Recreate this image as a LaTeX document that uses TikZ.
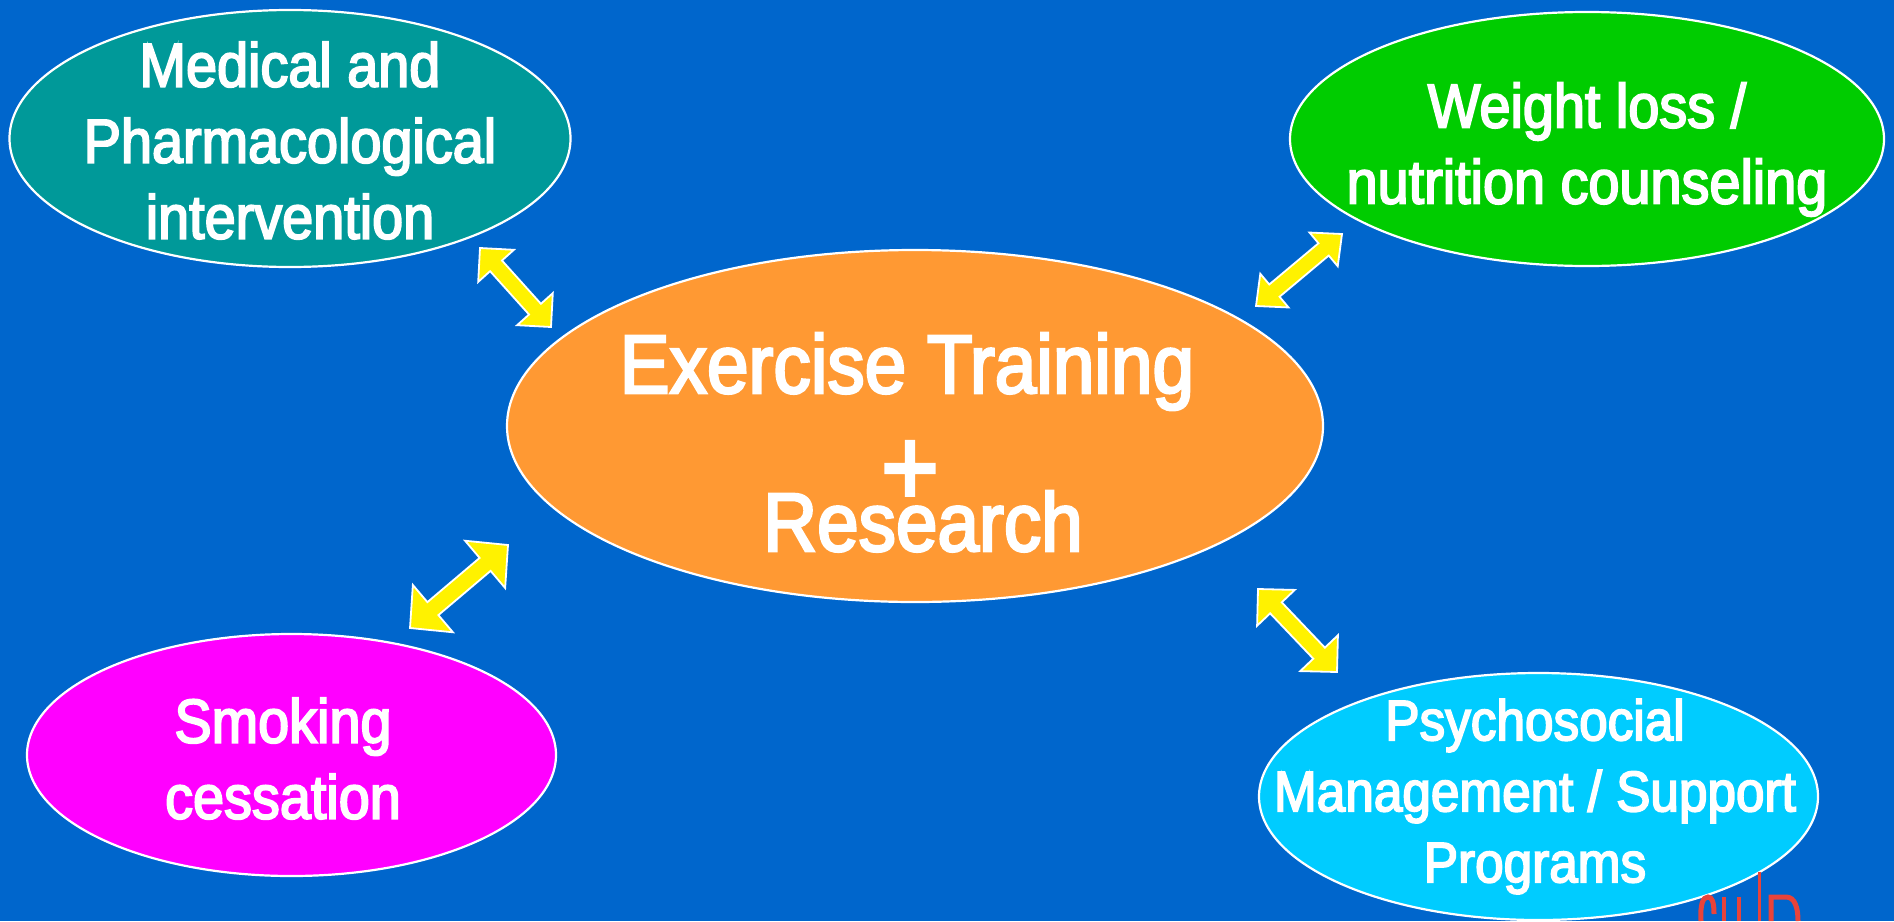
\documentclass[tikz,border=0pt]{standalone}
\usepackage{fontspec}
\setmainfont{Liberation Sans}[FakeStretch=0.9, FakeBold=3]
\usetikzlibrary{shapes.geometric,calc}

\definecolor{bgblue}{HTML}{0066CC}
\definecolor{medteal}{HTML}{009999}
\definecolor{weightgreen}{HTML}{00CC00}
\definecolor{trainorange}{HTML}{FF9933}
\definecolor{smokemagenta}{HTML}{FF00FF}
\definecolor{psychcyan}{HTML}{00CCFF}
\definecolor{logored}{HTML}{E8433A}

\begin{document}
\begin{tikzpicture}[x=1pt, y=-1pt]
            \tikzstyle{blob}=[ellipse, draw=white, line width=2.2pt, inner sep=0pt]
            \tikzstyle{blobtext}=[text=white, align=center, inner sep=0pt, font=\fontsize{62}{76}\selectfont]
            \tikzstyle{bigtext}=[text=white, inner sep=0pt, font=\fontsize{83}{83}\selectfont]
            % yellow block arrow with a head at both ends: {head length}{head half width}{shaft half width}
            \tikzset{biarrow/.style n args={3}{fill=yellow, draw=white, line width=1.8pt, to path={
                -- ($(\tikztostart)!#1!(\tikztotarget)!#2!90:(\tikztotarget)$)
                -- ($(\tikztostart)!#1!(\tikztotarget)!#3!90:(\tikztotarget)$)
                -- ($(\tikztotarget)!#1!(\tikztostart)!#3!-90:(\tikztostart)$)
                -- ($(\tikztotarget)!#1!(\tikztostart)!#2!-90:(\tikztostart)$)
                -- (\tikztotarget)
                -- ($(\tikztotarget)!#1!(\tikztostart)!#2!90:(\tikztostart)$)
                -- ($(\tikztotarget)!#1!(\tikztostart)!#3!90:(\tikztostart)$)
                -- ($(\tikztostart)!#1!(\tikztotarget)!#3!-90:(\tikztotarget)$)
                -- ($(\tikztostart)!#1!(\tikztotarget)!#2!-90:(\tikztotarget)$)
                -- cycle}}}
            \useasboundingbox (0,0) rectangle (1894,921);
            \fill[bgblue] (0,0) rectangle (1894,921);
            % the five ellipses
            \node[blob, fill=medteal, minimum width=561pt, minimum height=257pt] (medical) at (290,138.5) {};
            \node[blob, fill=weightgreen, minimum width=594pt, minimum height=254pt] (weight) at (1587,139) {};
            \node[blob, fill=trainorange, minimum width=816pt, minimum height=352pt] (train) at (915,426) {};
            \node[blob, fill=smokemagenta, minimum width=529pt, minimum height=242pt] (smoking) at (291.5,755) {};
            \node[blob, fill=psychcyan, minimum width=559pt, minimum height=247pt] (psych) at (1538.5,796.5) {};
            \node[blobtext] (medicaltext) at (290,140.5) {Medical and\\Pharmacological\\intervention};
            \node[blobtext] (weighttext) at (1587,149.5) {Weight loss /\\nutrition counseling};
            \node[blobtext] (smokingtext) at (283,758.5) {Smoking\\cessation};
            \node[blobtext, font=\fontsize{57}{71}\selectfont] (psychtext) at (1535,796.5) {Psychosocial\\Management / Support\\Programs};
            \node[bigtext, anchor=base] (exercise) at (907,393) {Exercise Training};
            \node[bigtext, anchor=base, font=\fontsize{110}{110}\selectfont] (plus) at (910,505) {+};
            \node[bigtext, anchor=base] (research) at (923,551) {Research};
            % arrow ends
            \coordinate (medA) at (480,248);
            \coordinate (medB) at (551,327);
            \coordinate (weightA) at (1342,234);
            \coordinate (weightB) at (1256,306);
            \coordinate (smokeA) at (508,545);
            \coordinate (smokeB) at (410,628);
            \coordinate (psychA) at (1258,589);
            \coordinate (psychB) at (1337,672);
            \path[biarrow={24pt}{24pt}{8pt}] (medA) to (medB);
            \path[biarrow={24pt}{22pt}{8pt}] (weightA) to (weightB);
            \path[biarrow={30pt}{31pt}{8.5pt}] (smokeA) to (smokeB);
            \path[biarrow={26pt}{26pt}{8pt}] (psychA) to (psychB);
            % logo cut off at the lower edge
            \draw[logored, line width=5pt] (1701,921) .. controls (1700,904) and (1703,897) .. (1708,897) .. controls (1712,897) and (1714,902) .. (1714,914);
            \draw[logored, line width=4.5pt] (1724,897) -- (1724,921) (1739,897) -- (1739,921);
            \draw[logored, line width=3pt] (1759,872) -- (1759,921);
            \draw[logored, line width=5pt] (1771,921) -- (1771,897) -- (1786,897) .. controls (1795,897) and (1798,908) .. (1798,921);
\end{tikzpicture}
\end{document}
